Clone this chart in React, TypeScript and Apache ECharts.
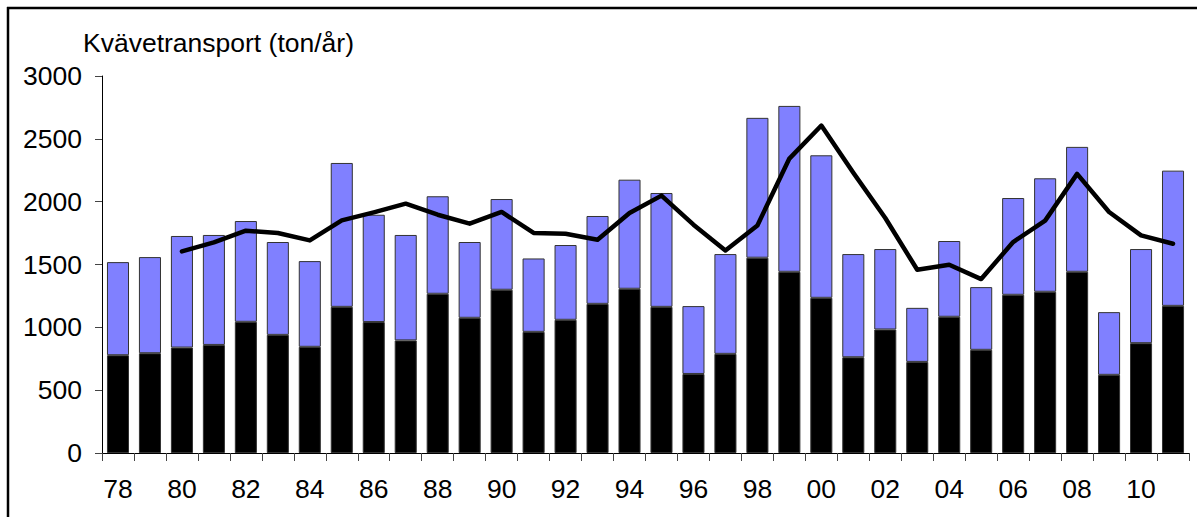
import React, { useEffect, useRef } from "react";
import * as echarts from "echarts";

const years: string[] = [
  "78", "79", "80", "81", "82", "83", "84", "85", "86", "87",
  "88", "89", "90", "91", "92", "93", "94", "95", "96", "97",
  "98", "99", "00", "01", "02", "03", "04", "05", "06", "07",
  "08", "09", "10", "11",
];

// lower (black) part of each bar
const lowerPart: number[] = [
  778, 794, 839, 860, 1044, 940, 845, 1163, 1042, 896,
  1267, 1076, 1299, 964, 1060, 1187, 1307, 1163, 629, 789,
  1554, 1442, 1235, 762, 983, 725, 1084, 821, 1259, 1283,
  1442, 622, 874, 1171,
];

// upper (blue) part of each bar
const upperPart: number[] = [
  741, 765, 888, 875, 802, 739, 682, 1145, 854, 839,
  776, 603, 722, 584, 595, 699, 868, 906, 540, 794,
  1113, 1320, 1134, 821, 640, 430, 603, 499, 770, 903,
  994, 499, 749, 1076,
];

// black trend line
const trendLine: (number | null)[] = [
  null, null, 1604, 1676, 1769, 1751, 1692, 1851, 1915, 1984,
  1896, 1825, 1918, 1751, 1745, 1697, 1910, 2048, 1817, 1612,
  1811, 2343, 2606, 2230, 1870, 1458, 1498, 1384, 1679, 1849,
  2221, 1918, 1732, 1665,
];

const yTicks = { min: 0, max: 3000, interval: 500 };
const titleText = "Kvävetransport (ton/år)";
const FONT = "'Liberation Sans', Arial, sans-serif";

export default function App() {
  const ref = useRef<HTMLDivElement>(null);
  useEffect(() => {
    if (!ref.current) return;
    const chart = echarts.init(ref.current, null, { renderer: "svg" });
    chart.setOption({
      animation: false,
      backgroundColor: "#ffffff",
      textStyle: { fontFamily: FONT },
      grid: { left: 102, right: 8, top: 76, bottom: 64, containLabel: false },
      graphic: [
        {
          type: "line",
          shape: { x1: 8, y1: 7, x2: 8, y2: 520 },
          style: { stroke: "#000", lineWidth: 2.5 },
        },
        {
          type: "line",
          shape: { x1: 7, y1: 8, x2: 1200, y2: 8 },
          style: { stroke: "#000", lineWidth: 2.5 },
        },
        {
          type: "text",
          left: 83,
          top: 29,
          style: { text: titleText, fontSize: 26.5, fontFamily: FONT, fill: "#000" },
        },
      ],
      xAxis: {
        type: "category",
        data: years,
        boundaryGap: true,
        axisLine: { lineStyle: { color: "#000", width: 1 } },
        axisTick: { show: true, interval: 0, length: 8, lineStyle: { color: "#444" } },
        axisLabel: { interval: 1, fontSize: 26.5, color: "#000", margin: 22, fontFamily: FONT },
        splitLine: { show: false },
      },
      yAxis: {
        type: "value",
        min: yTicks.min,
        max: yTicks.max,
        interval: yTicks.interval,
        axisLine: { show: true, lineStyle: { color: "#000", width: 1 } },
        axisTick: { show: true, length: 7, lineStyle: { color: "#444" } },
        axisLabel: {
          fontSize: 26.5,
          color: "#000",
          margin: 20,
          fontFamily: FONT,
          formatter: (v: number) => String(v),
        },
        splitLine: { show: false },
      },
      series: [
        {
          type: "bar",
          stack: "total",
          data: lowerPart,
          barCategoryGap: "31%",
          itemStyle: { color: "#000000", borderColor: "#333", borderWidth: 1 },
        },
        {
          type: "bar",
          stack: "total",
          data: upperPart,
          barCategoryGap: "31%",
          itemStyle: { color: "#8080FF", borderColor: "#333", borderWidth: 1 },
        },
        {
          type: "line",
          data: trendLine,
          symbol: "none",
          connectNulls: false,
          z: 5,
          lineStyle: { color: "#000", width: 4.5, join: "round", cap: "round" },
        },
      ],
    });
    return () => chart.dispose();
  }, []);
  return (
    <div
      ref={ref}
      style={{ position: "fixed", left: 0, top: 0, width: 1197, height: 517, background: "#fff" }}
    />
  );
}
